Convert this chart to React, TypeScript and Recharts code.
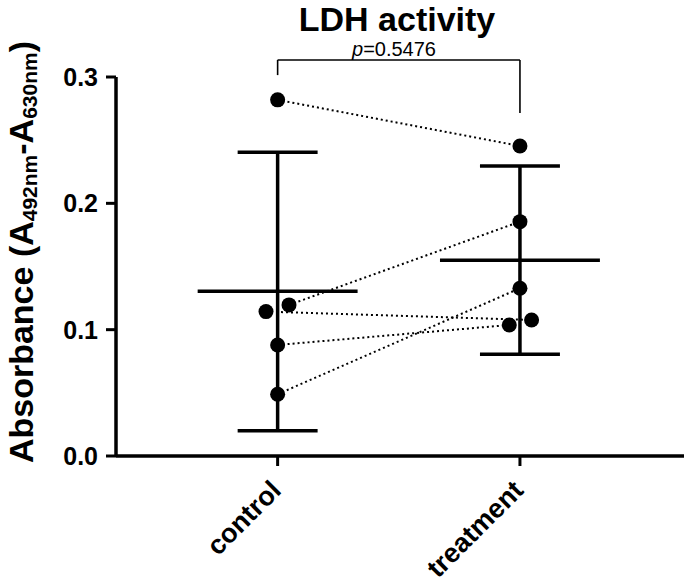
import React from 'react';
import { ComposedChart, Scatter, XAxis, YAxis, ReferenceLine } from 'recharts';

const groups = ['control', 'treatment'];
const controlValues = [0.2819, 0.1196, 0.1143, 0.0879, 0.0489];
const treatmentValues = [0.2454, 0.1855, 0.1077, 0.1037, 0.1328];
// horizontal jitter of overlapping dots, in category units
const controlJitter = [0, 0.047, -0.048, 0, 0];
const treatmentJitter = [0, 0, 0.048, -0.044, 0];
const means = [0.1305, 0.155];
const sdLow = [0.02, 0.0805];
const sdHigh = [0.2405, 0.2296];
const yTicks = [0, 0.1, 0.2, 0.3];
const pLabel = '0.5476';
// significance bracket: top level, then leg ends for control / treatment
const bracketTop = 0.3135;
const bracketLegs = [0.3015, 0.2716];

const FONT = '"Liberation Sans", Arial, Helvetica, sans-serif';
const MEAN_HALF = 0.33;
const CAP_HALF = 0.165;

const subjects = controlValues.map((v, i) => [
  { x: 0 + controlJitter[i], y: v },
  { x: 1 + treatmentJitter[i], y: treatmentValues[i] },
]);

const Dot = (props: any) => <circle cx={props.cx} cy={props.cy} r={7.5} fill="#000" />;

const XTick = (props: any) => {
  const { x, y, payload } = props;
  const ax = x + 5;
  const ay = y + 24;
  return (
    <text
      x={ax}
      y={ay}
      transform={`rotate(-45, ${ax}, ${ay})`}
      textAnchor="end"
      fontFamily={FONT}
      fontWeight="bold"
      fontSize={27}
      fill="#000"
    >
      {groups[payload.value]}
    </text>
  );
};

const seg = (x1: number, y1: number, x2: number, y2: number) => [
  { x: x1, y: y1 },
  { x: x2, y: y2 },
];

export default function App() {
  return (
    <div style={{ position: 'absolute', left: 0, top: 0, width: 685, height: 583, background: '#fff' }}>
      <ComposedChart width={685} height={583} margin={{ top: 77, right: 1, bottom: 0, left: 0 }}>
        <XAxis
          type="number"
          dataKey="x"
          domain={[-0.667, 1.677]}
          ticks={[0, 1]}
          tick={<XTick />}
          height={127}
          tickSize={10}
          axisLine={{ stroke: '#000', strokeWidth: 3.5 }}
          tickLine={{ stroke: '#000', strokeWidth: 3 }}
          allowDataOverflow
        />
        <YAxis
          type="number"
          dataKey="y"
          domain={[0, 0.3]}
          ticks={yTicks}
          width={116}
          tickSize={10}
          tickMargin={8}
          tickFormatter={(v: number) => v.toFixed(1)}
          tick={{ fill: '#000', fontSize: 25, fontWeight: 'bold', fontFamily: FONT }}
          axisLine={{ stroke: '#000', strokeWidth: 3.5 }}
          tickLine={{ stroke: '#000', strokeWidth: 3 }}
          allowDataOverflow
        />
        {groups.map((g, i) => (
          <React.Fragment key={g}>
            <ReferenceLine segment={seg(i, sdLow[i], i, sdHigh[i])} stroke="#000" strokeWidth={3.5} ifOverflow="visible" />
            <ReferenceLine segment={seg(i - CAP_HALF, sdHigh[i], i + CAP_HALF, sdHigh[i])} stroke="#000" strokeWidth={3.5} ifOverflow="visible" />
            <ReferenceLine segment={seg(i - CAP_HALF, sdLow[i], i + CAP_HALF, sdLow[i])} stroke="#000" strokeWidth={3.5} ifOverflow="visible" />
            <ReferenceLine segment={seg(i - MEAN_HALF, means[i], i + MEAN_HALF, means[i])} stroke="#000" strokeWidth={3.5} ifOverflow="visible" />
            <ReferenceLine segment={seg(i, bracketTop, i, bracketLegs[i])} stroke="#000" strokeWidth={1.6} ifOverflow="visible" />
          </React.Fragment>
        ))}
        <ReferenceLine segment={seg(0, bracketTop, 1, bracketTop)} stroke="#000" strokeWidth={1.6} ifOverflow="visible" />
        {subjects.map((s, i) => (
          <Scatter
            key={i}
            data={s}
            fill="#000"
            shape={Dot}
            line={{ stroke: '#000', strokeWidth: 2, strokeDasharray: '2 3' }}
            isAnimationActive={false}
          />
        ))}
      </ComposedChart>
      <svg width={685} height={583} style={{ position: 'absolute', left: 0, top: 0, pointerEvents: 'none' }}>
        <text x={397} y={31} textAnchor="middle" fontFamily={FONT} fontWeight="bold" fontSize={34} fill="#000">
          LDH activity
        </text>
        <text x={394} y={56} textAnchor="middle" fontFamily={FONT} fontSize={20} fill="#000">
          <tspan fontStyle="italic">p</tspan>={pLabel}
        </text>
        <text
          x={33}
          y={252}
          transform="rotate(-90, 33, 252)"
          textAnchor="middle"
          fontFamily={FONT}
          fontWeight="bold"
          fontSize={34}
          fill="#000"
        >
          Absorbance (A<tspan fontSize={21} dy={4}>492nm</tspan>
          <tspan dy={-4}>-A</tspan>
          <tspan fontSize={21} dy={4}>630nm</tspan>
          <tspan dy={-4}>)</tspan>
        </text>
      </svg>
    </div>
  );
}
